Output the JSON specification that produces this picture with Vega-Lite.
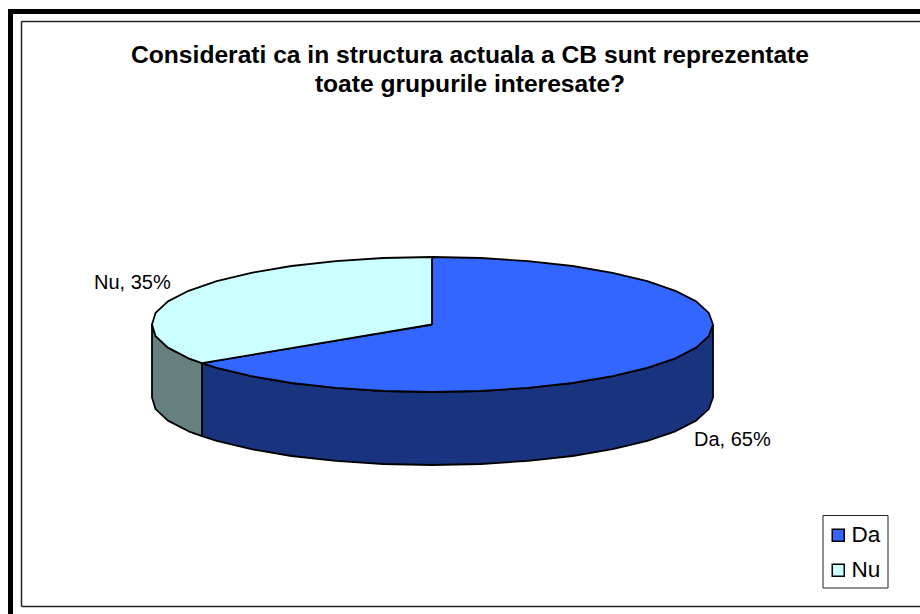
{"$schema":"https://vega.github.io/schema/vega-lite/v6.json","width":920,"height":614,"padding":0,"autosize":{"type":"none"},"background":"white","config":{"view":{"stroke":null}},
"title":{"text":["Considerati ca in structura actuala a CB sunt reprezentate","toate grupurile interesate?"],"anchor":"middle","dx":10,"offset":-98,"fontSize":24.6,"lineHeight":29,"font":"Liberation Sans","fontWeight":"bold","color":"black"},
"datasets":{"frame":[{}],"pie":[
{"surface":"side","answer":"Da","i":1,"x":713,"y":324.5},{"surface":"side","answer":"Da","i":2,"x":708.7,"y":336.2},{"surface":"side","answer":"Da","i":3,"x":696.1,"y":347.6},{"surface":"side","answer":"Da","i":4,"x":675.4,"y":358.3},{"surface":"side","answer":"Da","i":5,"x":647.3,"y":367.9},{"surface":"side","answer":"Da","i":6,"x":612.6,"y":376.2},{"surface":"side","answer":"Da","i":7,"x":572.5,"y":383},{"surface":"side","answer":"Da","i":8,"x":528.1,"y":387.9},{"surface":"side","answer":"Da","i":9,"x":480.8,"y":391},{"surface":"side","answer":"Da","i":10,"x":432,"y":392},{"surface":"side","answer":"Da","i":11,"x":383.2,"y":391},{"surface":"side","answer":"Da","i":12,"x":335.9,"y":387.9},{"surface":"side","answer":"Da","i":13,"x":291.5,"y":383},{"surface":"side","answer":"Da","i":14,"x":251.4,"y":376.2},{"surface":"side","answer":"Da","i":15,"x":216.7,"y":367.9},{"surface":"side","answer":"Da","i":16,"x":202,"y":363.2},
{"surface":"side","answer":"Da","i":17,"x":202,"y":436.2},{"surface":"side","answer":"Da","i":18,"x":216.7,"y":440.9},{"surface":"side","answer":"Da","i":19,"x":251.4,"y":449.2},{"surface":"side","answer":"Da","i":20,"x":291.5,"y":456},{"surface":"side","answer":"Da","i":21,"x":335.9,"y":460.9},{"surface":"side","answer":"Da","i":22,"x":383.2,"y":464},{"surface":"side","answer":"Da","i":23,"x":432,"y":465},{"surface":"side","answer":"Da","i":24,"x":480.8,"y":464},{"surface":"side","answer":"Da","i":25,"x":528.1,"y":460.9},{"surface":"side","answer":"Da","i":26,"x":572.5,"y":456},{"surface":"side","answer":"Da","i":27,"x":612.6,"y":449.2},{"surface":"side","answer":"Da","i":28,"x":647.3,"y":440.9},{"surface":"side","answer":"Da","i":29,"x":675.4,"y":431.3},{"surface":"side","answer":"Da","i":30,"x":696.1,"y":420.6},{"surface":"side","answer":"Da","i":31,"x":708.7,"y":409.2},{"surface":"side","answer":"Da","i":32,"x":713,"y":397.5},{"surface":"side","answer":"Da","i":33,"x":713,"y":324.5},
{"surface":"side","answer":"Nu","i":1,"x":202,"y":363.2},{"surface":"side","answer":"Nu","i":2,"x":188.6,"y":358.3},{"surface":"side","answer":"Nu","i":3,"x":167.9,"y":347.6},{"surface":"side","answer":"Nu","i":4,"x":155.6,"y":336.2},{"surface":"side","answer":"Nu","i":5,"x":152,"y":324.5},{"surface":"side","answer":"Nu","i":6,"x":152,"y":397.5},{"surface":"side","answer":"Nu","i":7,"x":155.6,"y":409.2},{"surface":"side","answer":"Nu","i":8,"x":167.9,"y":420.6},{"surface":"side","answer":"Nu","i":9,"x":188.6,"y":431.3},{"surface":"side","answer":"Nu","i":10,"x":202,"y":436.2},{"surface":"side","answer":"Nu","i":11,"x":202,"y":363.2},
{"surface":"top","answer":"Da","i":1,"x":432,"y":324.5},{"surface":"top","answer":"Da","i":2,"x":432,"y":257},{"surface":"top","answer":"Da","i":3,"x":480.8,"y":258},{"surface":"top","answer":"Da","i":4,"x":528.1,"y":261.1},{"surface":"top","answer":"Da","i":5,"x":572.5,"y":266},{"surface":"top","answer":"Da","i":6,"x":612.6,"y":272.8},{"surface":"top","answer":"Da","i":7,"x":647.3,"y":281.1},{"surface":"top","answer":"Da","i":8,"x":675.4,"y":290.8},{"surface":"top","answer":"Da","i":9,"x":696.1,"y":301.4},{"surface":"top","answer":"Da","i":10,"x":708.7,"y":312.8},{"surface":"top","answer":"Da","i":11,"x":713,"y":324.5},{"surface":"top","answer":"Da","i":12,"x":708.7,"y":336.2},{"surface":"top","answer":"Da","i":13,"x":696.1,"y":347.6},{"surface":"top","answer":"Da","i":14,"x":675.4,"y":358.3},{"surface":"top","answer":"Da","i":15,"x":647.3,"y":367.9},{"surface":"top","answer":"Da","i":16,"x":612.6,"y":376.2},{"surface":"top","answer":"Da","i":17,"x":572.5,"y":383},{"surface":"top","answer":"Da","i":18,"x":528.1,"y":387.9},{"surface":"top","answer":"Da","i":19,"x":480.8,"y":391},{"surface":"top","answer":"Da","i":20,"x":432,"y":392},{"surface":"top","answer":"Da","i":21,"x":383.2,"y":391},{"surface":"top","answer":"Da","i":22,"x":335.9,"y":387.9},{"surface":"top","answer":"Da","i":23,"x":291.5,"y":383},{"surface":"top","answer":"Da","i":24,"x":251.4,"y":376.2},{"surface":"top","answer":"Da","i":25,"x":216.7,"y":367.9},{"surface":"top","answer":"Da","i":26,"x":202,"y":363.2},{"surface":"top","answer":"Da","i":27,"x":432,"y":324.5},
{"surface":"top","answer":"Nu","i":1,"x":432,"y":324.5},{"surface":"top","answer":"Nu","i":2,"x":202,"y":363.2},{"surface":"top","answer":"Nu","i":3,"x":188.6,"y":358.3},{"surface":"top","answer":"Nu","i":4,"x":167.9,"y":347.6},{"surface":"top","answer":"Nu","i":5,"x":155.6,"y":336.2},{"surface":"top","answer":"Nu","i":6,"x":152,"y":324.5},{"surface":"top","answer":"Nu","i":7,"x":155.6,"y":312.8},{"surface":"top","answer":"Nu","i":8,"x":167.9,"y":301.4},{"surface":"top","answer":"Nu","i":9,"x":188.6,"y":290.8},{"surface":"top","answer":"Nu","i":10,"x":216.7,"y":281.1},{"surface":"top","answer":"Nu","i":11,"x":251.4,"y":272.8},{"surface":"top","answer":"Nu","i":12,"x":291.5,"y":266},{"surface":"top","answer":"Nu","i":13,"x":335.9,"y":261.1},{"surface":"top","answer":"Nu","i":14,"x":383.2,"y":258},{"surface":"top","answer":"Nu","i":15,"x":432,"y":257},{"surface":"top","answer":"Nu","i":16,"x":432,"y":324.5}
]},
"data":{"name":"pie"},
"layer":[
{"data":{"name":"frame"},"mark":{"type":"rule","color":"black","strokeWidth":5},"encoding":{"x":{"datum":8,"type":"quantitative","scale":{"domain":[0,920],"nice":false,"zero":false},"axis":null},"x2":{"datum":920},"y":{"datum":11.5,"type":"quantitative","scale":{"domain":[614,0],"nice":false,"zero":false},"axis":null}}},
{"data":{"name":"frame"},"mark":{"type":"rule","color":"black","strokeWidth":5},"encoding":{"x":{"datum":10.5,"type":"quantitative","axis":null},"y":{"datum":9,"type":"quantitative","axis":null},"y2":{"datum":614}}},
{"data":{"name":"frame"},"mark":{"type":"rule","color":"#222222","strokeWidth":1.5},"encoding":{"x":{"datum":21.5,"type":"quantitative","axis":null},"x2":{"datum":920},"y":{"datum":21.5,"type":"quantitative","axis":null}}},
{"data":{"name":"frame"},"mark":{"type":"rule","color":"#222222","strokeWidth":1.5},"encoding":{"x":{"datum":21.5,"type":"quantitative","axis":null},"y":{"datum":21.5,"type":"quantitative","axis":null},"y2":{"datum":606.5}}},
{"data":{"name":"frame"},"mark":{"type":"rule","color":"#222222","strokeWidth":1.5},"encoding":{"x":{"datum":21.5,"type":"quantitative","axis":null},"x2":{"datum":920},"y":{"datum":606.5,"type":"quantitative","axis":null}}},
{"data":{"name":"frame"},"mark":{"type":"rect","fill":"white","stroke":"#222222","strokeWidth":1},"encoding":{"x":{"datum":823,"type":"quantitative","axis":null},"x2":{"datum":888},"y":{"datum":515.5,"type":"quantitative","axis":null},"y2":{"datum":588}}},
{"transform":[{"filter":"datum.surface==='side' && datum.answer==='Da'"}],"mark":{"type":"line","fill":"#19337F","stroke":"black","strokeWidth":1.8,"strokeJoin":"round"},"encoding":{"x":{"field":"x","type":"quantitative","axis":null},"y":{"field":"y","type":"quantitative","axis":null},"order":{"field":"i"}}},
{"transform":[{"filter":"datum.surface==='side' && datum.answer==='Nu'"}],"mark":{"type":"line","fill":"#667F7F","stroke":"black","strokeWidth":1.8,"strokeJoin":"round"},"encoding":{"x":{"field":"x","type":"quantitative","axis":null},"y":{"field":"y","type":"quantitative","axis":null},"order":{"field":"i"}}},
{"transform":[{"filter":"datum.surface==='top'"}],"mark":{"type":"line","stroke":"black","strokeWidth":1.8,"strokeJoin":"round"},"encoding":{"x":{"field":"x","type":"quantitative","axis":null},"y":{"field":"y","type":"quantitative","axis":null},"order":{"field":"i"},"fill":{"field":"answer","type":"nominal","scale":{"domain":["Da","Nu"],"range":["#3366FF","#CCFFFF"]},"legend":{"title":null,"orient":"none","legendX":827,"legendY":524,"padding":0,"symbolType":"square","symbolSize":144,"symbolStrokeColor":"black","symbolStrokeWidth":1.5,"symbolOpacity":1,"labelFont":"Liberation Sans","labelFontSize":22.5,"labelColor":"black","labelOffset":2,"rowPadding":12}}}},
{"data":{"values":[{"answer":"Nu","share":35,"label":"Nu, 35%"}]},"mark":{"type":"text","font":"Liberation Sans","fontSize":20,"align":"left","baseline":"alphabetic","color":"black"},"encoding":{"x":{"datum":94,"type":"quantitative","axis":null},"y":{"datum":289,"type":"quantitative","axis":null},"text":{"field":"label"}}},
{"data":{"values":[{"answer":"Da","share":65,"label":"Da, 65%"}]},"mark":{"type":"text","font":"Liberation Sans","fontSize":20,"align":"left","baseline":"alphabetic","color":"black"},"encoding":{"x":{"datum":694,"type":"quantitative","axis":null},"y":{"datum":446,"type":"quantitative","axis":null},"text":{"field":"label"}}}
]}
